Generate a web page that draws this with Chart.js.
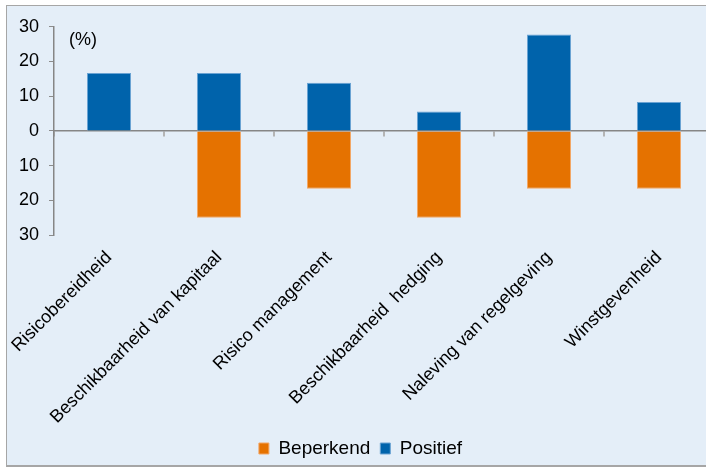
<!DOCTYPE html>
<html>
<head>
<meta charset="utf-8">
<script src="https://cdn.jsdelivr.net/npm/chart.js@4.4.1/dist/chart.umd.min.js"></script>
<style>
  html, body { margin: 0; padding: 0; background: #fff; overflow: hidden; }
  #kader {
    position: absolute; left: 6px; top: 5px; width: 730px; height: 459px;
    border: 1px solid #a6a6a6; border-right: none; border-bottom: 2px solid #a6a6a6;
    background: #e4eef8; overflow: hidden;
  }
  #kader canvas { position: absolute; left: 0; top: 0; }
</style>
</head>
<body>
<div id="kader"><canvas id="grafiek" width="730" height="462" style="width:730px;height:462px"></canvas></div>
<script>
// categorieen en waarden (%)
const categorieen = [
  'Risicobereidheid',
  'Beschikbaarheid van kapitaal',
  'Risico management',
  'Beschikbaarheid  hedging',
  'Naleving van regelgeving',
  'Winstgevenheid'
];
const beperkend = [0, -25, -16.7, -25, -16.7, -16.7];
const positief = [16.7, 16.7, 13.9, 5.6, 27.8, 8.3];
const yTicks = [-30, -20, -10, 0, 10, 20, 30];

const lettertype = 'Liberation Sans, Arial, sans-serif';
const ONDER = 229; // onderkant plotgebied in canvas px

// "(%)" label linksboven in het plotgebied
const eenheidPlugin = {
  id: 'eenheid',
  afterDraw(chart) {
    const ctx = chart.ctx;
    ctx.save();
    ctx.font = '18px ' + lettertype;
    ctx.fillStyle = '#000';
    ctx.textBaseline = 'middle';
    ctx.fillText('(%)', chart.chartArea.left + 15, chart.chartArea.top + 13);
    ctx.restore();
  }
};

new Chart(document.getElementById('grafiek'), {
  type: 'bar',
  data: {
    labels: categorieen,
    datasets: [
      {
        label: 'Beperkend',
        data: beperkend,
        backgroundColor: '#e57200',
        borderColor: '#f2a766',
        borderWidth: 1,
        xAxisID: 'x', yAxisID: 'y'
      },
      {
        label: 'Positief',
        data: positief,
        backgroundColor: '#0063ab',
        borderColor: '#6aa3d3',
        borderWidth: 1,
        xAxisID: 'x', yAxisID: 'y'
      }
    ]
  },
  options: {
    responsive: false,
    animation: false,
    barPercentage: 0.4,
    categoryPercentage: 1,
    layout: { padding: { left: 0, top: 17, right: 23, bottom: 0 } },
    plugins: {
      legend: {
        position: 'bottom',
        labels: {
          font: { family: lettertype, size: 19 },
          color: '#000',
          boxWidth: 10,
          boxHeight: 11,
          padding: 10
        }
      },
      tooltip: { enabled: false }
    },
    scales: {
      x: {
        type: 'category',
        stacked: true,
        offset: true,
        position: { y: 0 },
        grid: { display: true, drawOnChartArea: false, drawTicks: true, tickLength: 5, color: '#b4b4b4', lineWidth: 2, offset: true },
        border: { color: '#868686', width: 1.5 },
        ticks: { display: false }
      },
      xl: {
        type: 'category',
        labels: categorieen,
        offset: true,
        position: 'bottom',
        grid: { display: false },
        border: { display: false },
        ticks: {
          autoSkip: false,
          minRotation: 45,
          maxRotation: 45,
          color: '#000',
          padding: 4,
          font: { family: lettertype, size: 18 }
        },
        afterFit(scale) {
          const lg = scale.chart.legend ? scale.chart.legend.height : 0;
          scale.height = scale.chart.height - ONDER - lg;
          scale.paddingLeft = 0;
          scale.paddingRight = 0;
        }
      },
      y: {
        stacked: true,
        min: -30,
        max: 30,
        afterBuildTicks(scale) { scale.ticks = yTicks.map(v => ({ value: v })); },
        grid: { display: true, drawOnChartArea: false, drawTicks: true, tickLength: 5, color: '#8c8c8c' },
        border: { color: '#868686', width: 1.5 },
        ticks: {
          color: '#000',
          padding: 10,
          font: { family: lettertype, size: 18 },
          callback: v => Math.abs(v)
        },
        afterFit(scale) { scale.width = 47; }
      }
    }
  },
  plugins: [eenheidPlugin]
});
</script>
</body>
</html>
